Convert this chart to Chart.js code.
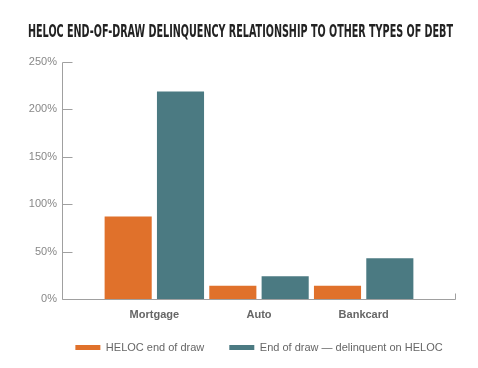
<!DOCTYPE html>
<html lang="en">
<head>
    <meta charset="UTF-8">
    <title>HELOC End-of-Draw Delinquency</title>
    <script src="https://cdn.jsdelivr.net/npm/chart.js@4.4.1/dist/chart.umd.min.js"></script>
    <style>
        body { margin: 0; background: #fff; }
    </style>
</head>
<body>
    <canvas id="chart" width="478" height="368"></canvas>
    <script>
        // values (percent)
        const categories = ['Mortgage', 'Auto', 'Bankcard'];
        const helocEndOfDraw = [87, 14, 14];
        const delinquentOnHeloc = [219, 24, 43];
        const seriesNames = ['HELOC end of draw', 'End of draw \u2014 delinquent on HELOC'];
        const yTicks = [0, 50, 100, 150, 200, 250];
        const title = 'HELOC END-OF-DRAW DELINQUENCY RELATIONSHIP TO OTHER TYPES OF DEBT';

        const orange = '#e0712b';
        const teal = '#4b7a82';
        const axisGrey = '#a0a0a0';

        // draws the title (squeezed like the condensed original) and the axis lines
        const decor = {
            id: 'decor',
            afterLayout(chart) {
                // centre the legend under the plot area and pull it up a little
                const lg = chart.legend;
                const area = chart.chartArea;
                const shift = (area.left + area.right) / 2 - (lg.left + lg.right) / 2;
                lg.left += shift;
                lg.right += shift;
                lg.top -= 5;
                lg.bottom -= 5;
            },
            afterDraw(chart) {
                const ctx = chart.ctx;
                const area = chart.chartArea;
                const y = chart.scales.y;
                const axisX = area.left - 39.5;
                const baseY = Math.round(y.getPixelForValue(0)) + 0.5;

                ctx.save();
                ctx.fillStyle = '#222';
                ctx.font = 'bold 18px "DejaVu Sans"';
                ctx.textBaseline = 'middle';
                ctx.fillText(title, 28, 32, 425);

                ctx.strokeStyle = axisGrey;
                ctx.lineWidth = 1;
                ctx.beginPath();
                ctx.moveTo(axisX, Math.round(y.getPixelForValue(250)) + 0.5);
                ctx.lineTo(axisX, baseY);
                ctx.lineTo(area.right + 39.5, baseY);
                ctx.lineTo(area.right + 39.5, baseY - 6);
                yTicks.forEach(v => {
                    const py = Math.round(y.getPixelForValue(v)) + 0.5;
                    ctx.moveTo(axisX, py);
                    ctx.lineTo(axisX + 10, py);
                });
                ctx.stroke();
                ctx.restore();
            }
        };

        const ctx = document.getElementById('chart').getContext('2d');
        const myChart = new Chart(ctx, {
            type: 'bar',
            data: {
                labels: categories,
                datasets: [{
                    label: seriesNames[0],
                    data: helocEndOfDraw,
                    backgroundColor: orange
                }, {
                    label: seriesNames[1],
                    data: delinquentOnHeloc,
                    backgroundColor: teal
                }]
            },
            options: {
                responsive: false,
                animation: false,
                categoryPercentage: 1,
                barPercentage: 0.9,
                layout: {
                    padding: { top: 62, left: 0, right: 0, bottom: 0 }
                },
                plugins: {
                    tooltip: { enabled: false },
                    legend: {
                        position: 'bottom',
                        labels: {
                            boxWidth: 25,
                            boxHeight: 5,
                            padding: 25,
                            color: '#666',
                            font: { family: '"Liberation Sans", Arial, sans-serif', size: 11 }
                        }
                    }
                },
                scales: {
                    x: {
                        afterFit(scale) { scale.height = 23; },
                        grid: { display: false, drawTicks: false },
                        border: { display: false },
                        ticks: {
                            padding: 9,
                            color: '#666',
                            font: { family: '"Liberation Sans", Arial, sans-serif', size: 11, weight: 'bold' }
                        }
                    },
                    y: {
                        min: 0,
                        max: 250,
                        afterFit(scale) { scale.width = 102; },
                        afterBuildTicks(scale) { scale.ticks = yTicks.map(v => ({ value: v })); },
                        grid: { display: false, drawTicks: false },
                        border: { display: false },
                        ticks: {
                            padding: 45,
                            color: '#888',
                            font: { family: '"Liberation Sans", Arial, sans-serif', size: 11 },
                            callback: v => v + '%'
                        }
                    },
                    // empty right-hand axis: only reserves the space right of the bars
                    spacer: {
                        position: 'right',
                        min: 0,
                        max: 1,
                        afterFit(scale) { scale.width = 62; },
                        grid: { display: false },
                        border: { display: false },
                        ticks: { display: false }
                    }
                }
            },
            plugins: [decor]
        });
    </script>
</body>
</html>
